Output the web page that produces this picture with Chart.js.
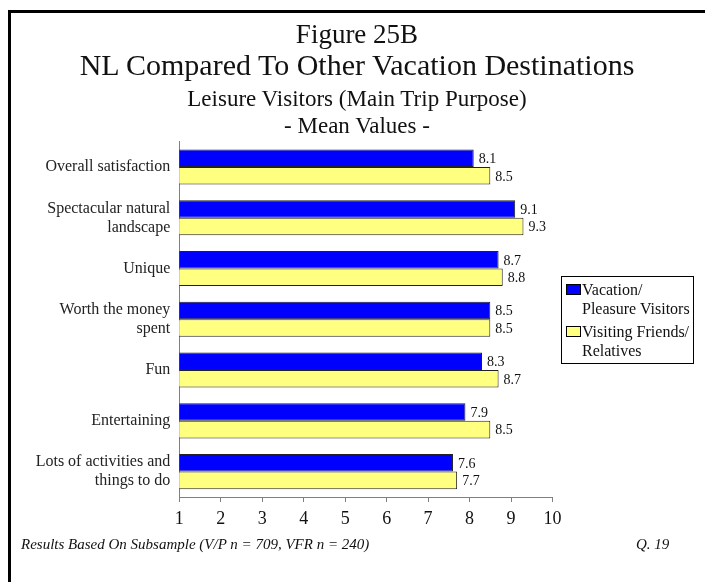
<!DOCTYPE html>
<html>
<head>
<meta charset="utf-8">
<script src="https://cdn.jsdelivr.net/npm/chart.js@4.4.1/dist/chart.umd.min.js"></script>
<style>
  html, body { margin: 0; padding: 0; background: #fff; }
  body { width: 705px; height: 582px; position: relative; overflow: hidden; font-family: 'Liberation Serif', 'Times New Roman', serif; color: #111; }
  #frame { position: absolute; left: 8px; top: 10px; right: 0; bottom: 0; border-top: 3px solid #000; border-left: 3px solid #000; }
  #chart { position: absolute; left: 0; top: 0; }
  .title-line { position: absolute; left: 9px; right: 0; text-align: center; white-space: nowrap; }
  #legend { position: absolute; left: 561px; top: 276px; width: 131px; height: 83px; border: 1px solid #000; box-sizing: content-box; padding-top: 3px; }
  .legend-item { display: flex; align-items: flex-start; margin-bottom: 4px; }
  .legend-swatch { width: 13px; height: 9px; border: 1px solid #000; margin: 4px 1px 0 4px; flex: none; }
  .legend-text { font-size: 16px; line-height: 19px; white-space: nowrap; }
  .note { position: absolute; font-size: 15px; font-style: italic; line-height: 16px; white-space: nowrap; }
</style>
</head>
<body>
<div id="frame"></div>
<canvas id="chart" width="705" height="582"></canvas>
<div id="titles"></div>
<div id="legend"></div>
<div class="note" style="left:21px; top:536px;">Results Based On Subsample (V/P n = 709, VFR n = 240)</div>
<div class="note" style="left:636px; top:536px;">Q. 19</div>

<script>
// chart data
const categories = [
  "Overall satisfaction",
  ["Spectacular natural", "landscape"],
  "Unique",
  ["Worth the money", "spent"],
  "Fun",
  "Entertaining",
  ["Lots of activities and", "things to do"]
];
const vacationValues = [8.1, 9.1, 8.7, 8.5, 8.3, 7.9, 7.6];
const friendsValues = [8.5, 9.3, 8.8, 8.5, 8.7, 8.5, 7.7];
const seriesLabels = [["Vacation/", "Pleasure Visitors"], ["Visiting Friends/", "Relatives"]];
const seriesColors = ["#0000ff", "#ffff80"];
const tickValues = [1, 2, 3, 4, 5, 6, 7, 8, 9, 10];

const titleLines = [
  { text: "Figure 25B", size: 27, y: 34 },
  { text: "NL Compared To Other Vacation Destinations", size: 30, y: 65 },
  { text: "Leisure Visitors (Main Trip Purpose)", size: 23, y: 99 },
  { text: "- Mean Values -", size: 23, y: 126 }
];

const serif = "'Liberation Serif', 'Times New Roman', serif";

// heading lines above the plot
const titlesEl = document.getElementById("titles");
titleLines.forEach(line => {
  const div = document.createElement("div");
  div.className = "title-line";
  div.textContent = line.text;
  const lh = Math.round(line.size * 1.2);
  div.style.fontSize = line.size + "px";
  div.style.lineHeight = lh + "px";
  div.style.top = (line.y - lh / 2) + "px";
  titlesEl.appendChild(div);
});

// legend box on the right
const legendEl = document.getElementById("legend");
seriesLabels.forEach((lines, i) => {
  const item = document.createElement("div");
  item.className = "legend-item";
  const swatch = document.createElement("div");
  swatch.className = "legend-swatch";
  swatch.style.background = seriesColors[i];
  const text = document.createElement("div");
  text.className = "legend-text";
  text.innerHTML = lines.join("<br>");
  item.appendChild(swatch);
  item.appendChild(text);
  legendEl.appendChild(item);
});

// value labels at the end of each bar
const barValueLabels = {
  id: "barValueLabels",
  afterDatasetsDraw(chart) {
    const ctx = chart.ctx;
    ctx.save();
    ctx.font = "14px " + serif;
    ctx.fillStyle = "#111";
    ctx.textAlign = "left";
    ctx.textBaseline = "middle";
    chart.data.datasets.forEach((ds, di) => {
      chart.getDatasetMeta(di).data.forEach((bar, i) => {
        ctx.fillText(ds.data[i].toFixed(1), bar.x + 5, bar.y + 1);
      });
    });
    ctx.restore();
  }
};

new Chart(document.getElementById("chart"), {
  type: "bar",
  data: {
    labels: categories,
    datasets: [
      {
        label: seriesLabels[0].join(" "),
        data: vacationValues,
        backgroundColor: seriesColors[0],
        borderColor: "#222",
        borderWidth: 1,
        barPercentage: 1,
        categoryPercentage: 0.69
      },
      {
        label: seriesLabels[1].join(" "),
        data: friendsValues,
        backgroundColor: seriesColors[1],
        borderColor: "#222",
        borderWidth: 1,
        barPercentage: 1,
        categoryPercentage: 0.69
      }
    ]
  },
  options: {
    indexAxis: "y",
    responsive: false,
    animation: false,
    layout: { padding: { left: 0, right: 152.5, top: 141.7, bottom: 45 } },
    plugins: {
      legend: { display: false },
      tooltip: { enabled: false }
    },
    scales: {
      x: {
        min: 1,
        max: 10,
        afterBuildTicks: scale => { scale.ticks = tickValues.map(v => ({ value: v })); },
        afterFit: scale => { scale.height = 40; },
        border: { display: true, color: "#808080", width: 1 },
        grid: { drawOnChartArea: false, drawTicks: true, tickLength: 5, color: "#808080" },
        ticks: { font: { family: serif, size: 18 }, color: "#111", padding: 6, maxRotation: 0 }
      },
      y: {
        afterFit: scale => { scale.width = 179.3; },
        border: { display: true, color: "#808080", width: 1 },
        grid: { display: false, drawTicks: false },
        ticks: { font: { family: serif, size: 16, lineHeight: 1.19 }, color: "#222", padding: 9 }
      }
    }
  },
  plugins: [barValueLabels]
});
</script>
</body>
</html>
